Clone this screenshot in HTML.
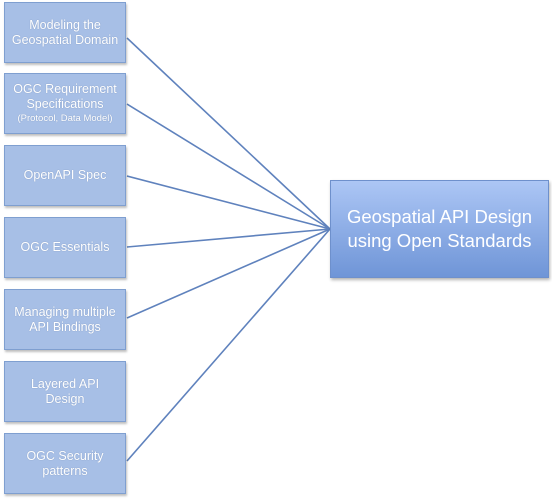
<!DOCTYPE html>
<html><head><style>
body{margin:0;width:552px;height:500px;background:#fff;position:relative;overflow:hidden;font-family:"Liberation Sans",sans-serif}
.b{position:absolute;left:4px;width:122px;height:59px;background:#a7bfe6;border:1px solid #7f9fd0;box-shadow:1px 2px 2px rgba(0,0,0,.25);color:#fff;font-size:12.5px;line-height:15px;text-align:center;display:flex;flex-direction:column;justify-content:center;text-shadow:0 0 1px rgba(60,80,120,.4);box-sizing:border-box}
.s{font-size:9.5px;line-height:13px}
.m{position:absolute;left:330px;top:180px;width:219px;height:98px;background:linear-gradient(#acc6f5,#6f95d7);border:1px solid #6e90cc;box-sizing:border-box;box-shadow:1px 2px 3px rgba(0,0,0,.3);color:#fff;font-size:18.5px;line-height:24px;text-align:center;display:flex;flex-direction:column;justify-content:center}
svg{position:absolute;left:0;top:0}
</style></head><body>
<svg width="552" height="500"><g stroke="#5f82bd" stroke-width="1.6" fill="none">
<line x1="127" y1="38" x2="330" y2="229"/>
<line x1="127" y1="104" x2="330" y2="229"/>
<line x1="127" y1="176" x2="330" y2="229"/>
<line x1="127" y1="247" x2="330" y2="229"/>
<line x1="127" y1="318" x2="330" y2="229"/>
<line x1="127" y1="461" x2="330" y2="229"/>
</g></svg>
<div class="b" style="top:2px;height:61px">Modeling the<br>Geospatial Domain</div>
<div class="b" style="top:73px;height:61px">OGC Requirement<br>Specifications<span class="s">(Protocol, Data Model)</span></div>
<div class="b" style="top:145px;height:61px">OpenAPI Spec</div>
<div class="b" style="top:217px;height:61px">OGC Essentials</div>
<div class="b" style="top:289px;height:61px">Managing multiple<br>API Bindings</div>
<div class="b" style="top:361px;height:61px">Layered API<br>Design</div>
<div class="b" style="top:433px;height:61px">OGC Security<br>patterns</div>
<div class="m">Geospatial API Design<br>using Open Standards</div>
</body></html>
